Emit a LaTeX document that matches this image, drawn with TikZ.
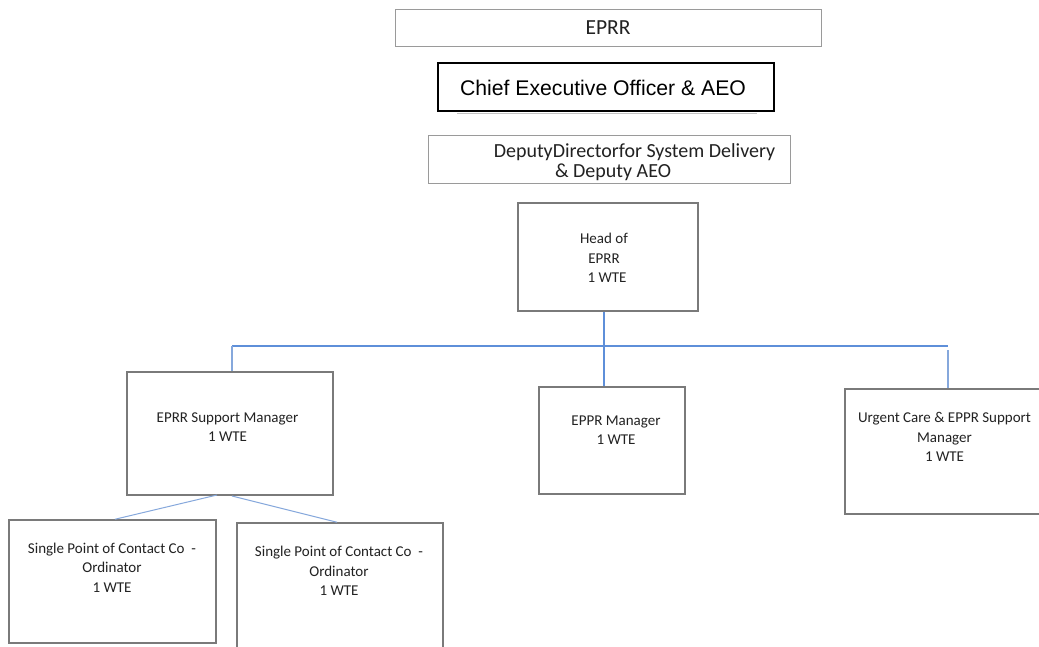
\documentclass[tikz,border=0pt]{standalone}
\usepackage{fontspec}
\setmainfont{Carlito}
\newfontfamily\arialf{Liberation Sans}
\definecolor{boxgray}{HTML}{7A7A7A}
\definecolor{lightgray}{HTML}{9A9A9A}
\definecolor{linkblue}{HTML}{5E8FD9}
\definecolor{linkblue2}{HTML}{86A8DC}
\definecolor{txtc}{HTML}{222222}
\tikzset{
  box/.style={draw=boxgray, line width=1.5pt, fill=white, inner sep=0pt, rectangle},
  thinbox/.style={draw=lightgray, line width=1pt, fill=white, inner sep=0pt, rectangle},
  blackbox/.style={draw=black, line width=1.6pt, fill=white, inner sep=0pt, rectangle},
  txt/.style={inner sep=0pt, align=center, text=txtc, font=\fontsize{15}{19.5}\selectfont},
  bigtxt/.style={inner sep=0pt, align=center, text=txtc, font=\fontsize{20}{20}\selectfont},
  conn/.style={draw=linkblue, line width=1.8pt},
  thinconn/.style={draw=linkblue2, line width=1pt},
}
\begin{document}
\begin{tikzpicture}[x=1pt,y=-1pt]
\useasboundingbox (0,0) rectangle (1039,646);
\clip (0,0) rectangle (1039,646);
\fill[white] (0,0) rectangle (1039,646);

% top boxes
\node[thinbox, minimum width=426pt, minimum height=37pt] (eprr) at (608,27.5) {};
\node[txt, font=\fontsize{21.5}{22}\selectfont] (eprrt) at (608,27.5) {EPRR};

\draw[lightgray!60, line width=1pt] (457,113.5) -- (757,113.5);
\node[blackbox, minimum width=336pt, minimum height=48pt] (ceo) at (606,87) {};
\node[inner sep=0pt, text=black, font=\arialf\fontsize{21.2}{22}\selectfont] (ceot) at (603,88) {Chief Executive Officer \& AEO};

\node[thinbox, minimum width=362pt, minimum height=48pt] (dep) at (609,159) {};
\node[bigtxt] (dept) at (634.5,162) {DeputyDirectorfor System Delivery\\\hspace*{-43pt}\& Deputy AEO};

% head
\node[box, minimum width=180pt, minimum height=108pt] (head) at (608,257) {};
\node[txt] (headt) at (604,258) {Head of\\EPRR\\\hspace*{6pt}1 WTE};

% second level
\node[box, minimum width=206pt, minimum height=123pt] (supp) at (230,433.5) {};
\node[txt] (suppt) at (227.5,427) {EPRR Support Manager\\1 WTE};

\node[box, minimum width=146pt, minimum height=107pt] (eppr) at (612,440.5) {};
\node[txt] (epprt) at (616,430) {EPPR Manager\\1 WTE};

\node[box, minimum width=205pt, minimum height=125pt] (urg) at (947.5,451.5) {};
\node[txt] (urgt) at (944.5,437) {Urgent Care \& EPPR Support\\Manager\\1 WTE};

% third level
\node[box, minimum width=207pt, minimum height=123pt] (sp1) at (112.5,581.5) {};
\node[txt] (sp1t) at (112,567.5) {Single Point of Contact Co \ -\\Ordinator\\1 WTE};

\node[box, minimum width=206pt, minimum height=157pt] (sp2) at (340,601.5) {};
\node[txt] (sp2t) at (339,571) {Single Point of Contact Co \ -\\Ordinator\\1 WTE};

% connectors
\coordinate (bus) at (604,346);
\coordinate (busL) at (232,346);
\coordinate (busR) at (948,346);
\draw[conn] ([xshift=-4pt]head.south) -- ([xshift=-8pt]eppr.north);
\draw[conn] (busL) -- (busR);
\draw[thinconn, line width=1.4pt] (busL) -- ([xshift=2pt]supp.north);
\draw[thinconn, line width=1.4pt] ([yshift=-4pt]busR) -- ([xshift=0.5pt]urg.north);

\coordinate (sa) at (217,495);
\coordinate (sb) at (232,496);
\draw[thinconn] (sa) -- ([xshift=2.5pt]sp1.north);
\draw[thinconn] (sb) -- ([xshift=-3pt]sp2.north);
\end{tikzpicture}
\end{document}
